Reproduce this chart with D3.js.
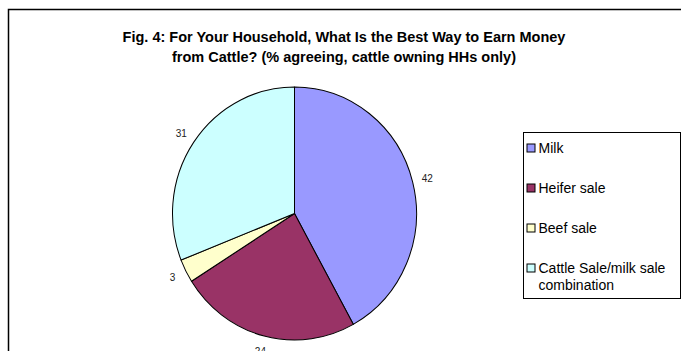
<!DOCTYPE html>
<html>
<head>
<meta charset="utf-8">
<script src="https://cdn.jsdelivr.net/npm/d3@7"></script>
<style>
  body { margin: 0; background: #fff; }
  text { font-family: Arial, "Liberation Sans", sans-serif; }
</style>
</head>
<body>
<div id="chart"></div>
<script>
// datos del grafico
var categorias = ["Milk", "Heifer sale", "Beef sale", "Cattle Sale/milk sale combination"];
var valores = [42, 24, 3, 31];
var colores = ["#9999FF", "#993366", "#FFFFCC", "#CCFFFF"];
var titulo = ["Fig. 4: For Your Household, What Is the Best Way to Earn Money",
              "from Cattle? (% agreeing, cattle owning HHs only)"];

var width = 681, height = 351;
var cx = 294.5, cy = 213.5;
var radio = 122;
var escalaY = 1.037; // el pie de excel sale un poco ovalado

var svg = d3.select("#chart").append("svg")
  .attr("width", width)
  .attr("height", height);

// marco exterior (cortado a la derecha y abajo)
svg.append("rect")
  .attr("x", 8.5).attr("y", 9.5)
  .attr("width", 700).attr("height", 400)
  .attr("fill", "none")
  .attr("stroke", "#000")
  .attr("stroke-width", 1.5);

// titulo
svg.append("text")
  .attr("x", 344).attr("y", 42)
  .attr("text-anchor", "middle")
  .style("font-size", "14.5px")
  .style("font-weight", "bold")
  .selectAll("tspan")
  .data(titulo)
  .enter().append("tspan")
  .attr("x", 344)
  .attr("dy", function (d, i) { return i === 0 ? 0 : 20; })
  .text(function (d) { return d; });

var pie = d3.pie().sort(null).value(function (d) { return d; });
var arcos = pie(valores);

var arc = d3.arc().innerRadius(0).outerRadius(radio);
var arcLabel = d3.arc().innerRadius(radio + 15).outerRadius(radio + 15);

var g = svg.append("g")
  .attr("transform", "translate(" + cx + "," + cy + ") scale(1," + escalaY + ")");

g.selectAll("path")
  .data(arcos)
  .enter().append("path")
  .attr("d", arc)
  .attr("fill", function (d, i) { return colores[i]; })
  .attr("stroke", "#000")
  .attr("stroke-width", 1)
  .attr("stroke-linejoin", "round");

// etiquetas de valores
svg.selectAll(".valor")
  .data(arcos)
  .enter().append("text")
  .attr("class", "valor")
  .attr("x", function (d) { return cx + arcLabel.centroid(d)[0]; })
  .attr("y", function (d) { return cy + arcLabel.centroid(d)[1] * escalaY; })
  .attr("dy", "0.35em")
  .attr("text-anchor", "middle")
  .style("font-size", "10px")
  .style("fill", "#222")
  .text(function (d) { return d.data; });

// leyenda
var leyX = 523.5, leyY = 132.5;
svg.append("rect")
  .attr("x", leyX).attr("y", leyY)
  .attr("width", 157).attr("height", 166)
  .attr("fill", "#fff")
  .attr("stroke", "#000")
  .attr("stroke-width", 1);

var items = svg.selectAll(".item")
  .data(categorias)
  .enter().append("g")
  .attr("class", "item")
  .attr("transform", function (d, i) { return "translate(" + (leyX + 3) + "," + (leyY + 16 + i * 40) + ")"; });

items.append("rect")
  .attr("x", 0.5).attr("y", -4.5)
  .attr("width", 8).attr("height", 8)
  .attr("fill", function (d, i) { return colores[i]; })
  .attr("stroke", "#000")
  .attr("stroke-width", 1);

items.append("text")
  .attr("x", 12)
  .attr("y", 0)
  .attr("dy", "0.35em")
  .style("font-size", "14px")
  .each(function (d) {
    var t = d3.select(this);
    if (d.length > 25) {
      t.append("tspan").attr("x", 12).text("Cattle Sale/milk sale");
      t.append("tspan").attr("x", 12).attr("dy", 17).text("combination");
    } else {
      t.text(d);
    }
  });
</script>
</body>
</html>
